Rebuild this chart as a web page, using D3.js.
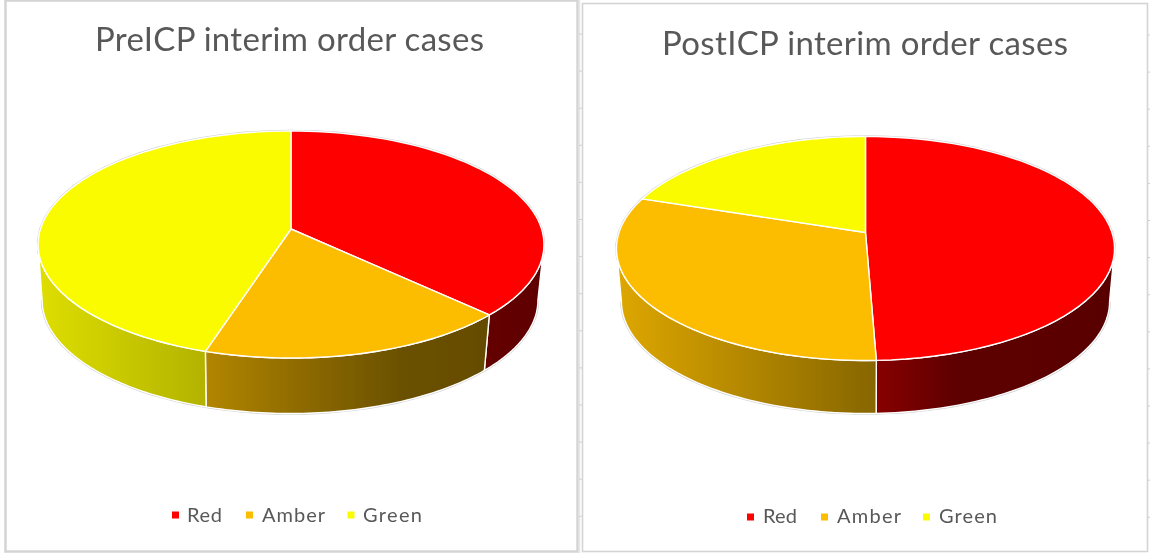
<!DOCTYPE html>
<html>
<head>
<meta charset="utf-8">
<script src="https://cdn.jsdelivr.net/npm/d3@7/dist/d3.min.js"></script>
<style>html,body{margin:0;padding:0;background:#fff}svg{display:block}</style>
</head>
<body>
<svg id="c" width="1150" height="553"></svg>
<script>
const categories = ["Red", "Amber", "Green"];
const preValues = [37.3, 17.5, 45.2];
const postValues = [49.4, 30.8, 19.8];
const preTitle = "PreICP interim order cases";
const postTitle = "PostICP interim order cases";
const sliceColors = ["#fe0000", "#fcbd00", "#fbfb00"];
const wallBase = [[255, 0, 0], [255, 192, 0], [255, 255, 0]];

const layouts = [
  {values: preValues, title: preTitle, titleX: 95, titleW: 389, titleY: 51,
   cx: 291, apexY: 229, R: 250.6, a: 111.4, k: 0.1366, depth: 55.5, bottomScale: 0.98, bottomDx: -1,
   shade: [[38, .87], [205, .70], [291, .57], [400, .42], [470, .40], [544, .37]],
   legendY: 522, swatchY: 511.5, swatchX: [172, 246, 347.5], textX: [187, 262, 363], textW: [35, 63, 59]},
  {values: postValues, title: postTitle, titleX: 662, titleW: 406, titleY: 55,
   cx: 865.5, apexY: 232.5, R: 246.5, a: 109.7, k: 0.1429, depth: 53, bottomScale: 0.98, bottomDx: 0,
   shade: [[617, .87], [876, .53], [960, .36], [1115, .35]],
   legendY: 523, swatchY: 513.5, swatchX: [747, 821, 923], textX: [763, 837, 939], textW: [34, 64, 58]}
];

const svg = d3.select("#c");
const defs = svg.append("defs");
defs.append("filter").attr("id", "soft").attr("x", "-5%").attr("y", "-5%").attr("width", "110%").attr("height", "110%")
  .append("feGaussianBlur").attr("stdDeviation", 0.45);

// panel frames
const frames = svg.append("g").attr("fill", "none").attr("stroke", "#d4d4d4");
frames.append("rect").attr("x", 5.5).attr("y", 0.5).attr("width", 572).attr("height", 551).attr("stroke-width", 2.5);
frames.append("rect").attr("x", 582.5).attr("y", 3.5).attr("width", 565).attr("height", 548).attr("stroke-width", 1.6);
frames.append("line").attr("x1", 579.5).attr("x2", 579.5).attr("y1", 0).attr("y2", 553).attr("stroke", "#e6e6e6").attr("stroke-width", 1.5);
const gridRows = d3.range(34, 553, 37.1);
svg.append("g").selectAll("path").data(gridRows).join("path")
  .attr("d", y => `M579,${y}h3M1148,${y + 1}h2`).attr("stroke", "#d0d0d0").attr("fill", "none");

const pieGen = d3.pie().sort(null).startAngle(0).endAngle(2 * Math.PI);

layouts.forEach((L, pi) => {
  const g = svg.append("g").attr("filter", "url(#soft)");
  const project = (theta, lower) => {
    const u = Math.sin(theta), v = -Math.cos(theta);
    const w = 1 - L.k * v;
    const s = lower ? L.bottomScale : 1;
    return [L.cx + (lower ? L.bottomDx : 0) + s * L.R * u / w, L.apexY + (lower ? L.depth : 0) + L.a * v / w];
  };
  const arcs = pieGen(L.values);
  const frontStart = Math.acos(-L.k);
  const frontEnd = 2 * Math.PI - frontStart;
  const samples = (a0, a1) => d3.range(0, 61).map(i => a0 + (a1 - a0) * i / 60);
  const line = d3.line();

  // silhouette halo
  const all = samples(0, 2 * Math.PI);
  g.append("path").attr("d", line(all.map(t => project(t))) + "Z")
    .attr("fill", "none").attr("stroke", "#cfcfcf").attr("stroke-width", 2.6);
  const front = samples(frontStart, frontEnd);
  g.append("path").attr("d", line(front.map(t => project(t, true))))
    .attr("fill", "none").attr("stroke", "#cfcfcf").attr("stroke-width", 2.6);

  // walls
  const x0 = L.shade[0][0], x1 = L.shade[L.shade.length - 1][0];
  arcs.forEach((d, i) => {
    const a0 = Math.max(d.startAngle, frontStart), a1 = Math.min(d.endAngle, frontEnd);
    if (a1 <= a0) return;
    const id = `wall${pi}${i}`;
    const grad = defs.append("linearGradient").attr("id", id).attr("gradientUnits", "userSpaceOnUse")
      .attr("x1", x0).attr("x2", x1).attr("y1", 0).attr("y2", 0);
    L.shade.forEach(([x, b]) => {
      grad.append("stop").attr("offset", (x - x0) / (x1 - x0))
        .attr("stop-color", d3.rgb(...wallBase[i].map(c => c * b)).formatHex());
    });
    const ts = samples(a0, a1);
    const pts = ts.map(t => project(t)).concat(ts.slice().reverse().map(t => project(t, true)));
    g.append("path").attr("d", line(pts) + "Z").attr("fill", `url(#${id})`)
      .attr("stroke", "#fff").attr("stroke-width", 1.4).attr("stroke-linejoin", "round");
  });

  // top face
  arcs.forEach((d, i) => {
    const pts = [[L.cx, L.apexY]].concat(samples(d.startAngle, d.endAngle).map(t => project(t)));
    g.append("path").attr("d", line(pts) + "Z").attr("fill", sliceColors[i])
      .attr("stroke", "#fff").attr("stroke-width", 1.4).attr("stroke-linejoin", "round");
  });

  // title and legend
  const t = svg.append("g").attr("filter", "url(#soft)").attr("font-family", "Lato, 'Open Sans', sans-serif").attr("fill", "#595959");
  t.append("text").text(L.title).attr("x", L.titleX).attr("y", L.titleY)
    .attr("font-size", 33).attr("textLength", L.titleW).attr("lengthAdjust", "spacing");
  categories.forEach((c, i) => {
    t.append("rect").attr("x", L.swatchX[i]).attr("y", L.swatchY).attr("width", 7).attr("height", 7).attr("fill", sliceColors[i]);
    t.append("text").text(c).attr("x", L.textX[i]).attr("y", L.legendY)
      .attr("font-size", 20).attr("textLength", L.textW[i]).attr("lengthAdjust", "spacing");
  });
});
</script>
</body>
</html>
